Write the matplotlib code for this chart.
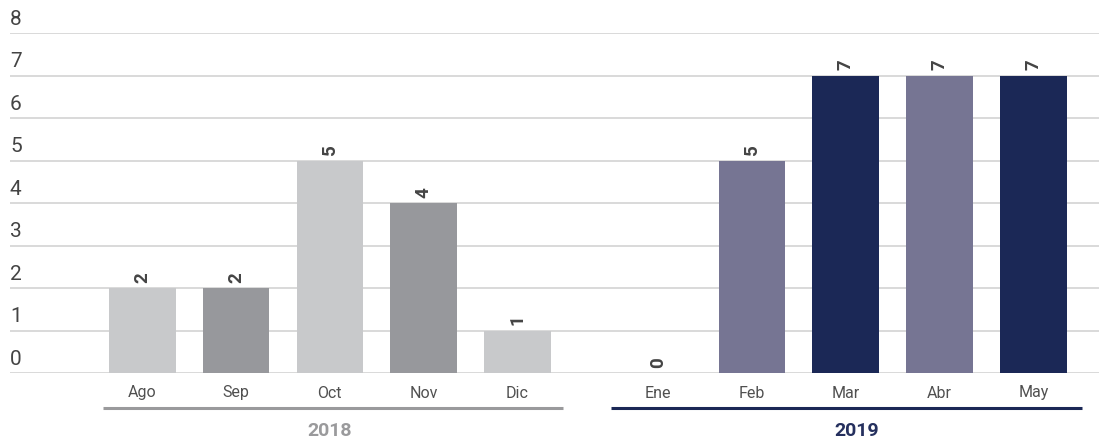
import matplotlib
matplotlib.use("Agg")
import matplotlib.pyplot as plt
import numpy as np

plt.rcParams['font.family'] = ['Roboto', 'DejaVu Sans']

# Casos por mes, agrupados por año
meses_2018 = ['Ago', 'Sep', 'Oct', 'Nov', 'Dic']
valores_2018 = [2, 2, 5, 4, 1]
meses_2019 = ['Ene', 'Feb', 'Mar', 'Abr', 'May']
valores_2019 = [0, 5, 7, 7, 7]
anios = ['2018', '2019']

colores_2018 = ['#c8c9cb', '#97989c', '#c8c9cb', '#97989c', '#c8c9cb']
colores_2019 = ['#1b2856', '#767593', '#1b2856', '#767593', '#1b2856']
color_anio = ['#9a9a9c', '#25305e']
linea_anio = ['#9a9a9c', '#1b2856']

# posiciones: hueco de media barra entre años
x18 = np.arange(len(meses_2018))
x19 = np.arange(len(meses_2019)) + len(meses_2018) + 0.5

fig = plt.figure(figsize=(10.99, 4.46), dpi=100)
ax = fig.add_axes([10 / 1099, 1 - 373 / 446, 1 - 10 / 1099, (373 - 33) / 446])

ax.set_xlim(-1.41, 10.2)
ax.set_ylim(0, 8)

# rejilla horizontal con la etiqueta encima de cada línea
for v in range(0, 9):
    ax.axhline(v, color='#d9d9d9', lw=1.4, zorder=0)
    ax.text(0.0, v + 0.1, str(v), transform=ax.get_yaxis_transform(),
            ha='left', va='bottom', fontsize=15, color='#444444')

ancho = 0.71
for xs, vals, cols in [(x18, valores_2018, colores_2018),
                       (x19, valores_2019, colores_2019)]:
    barras = ax.bar(xs, vals, width=ancho, color=cols, zorder=2)
    for b, v in zip(barras, vals):
        ax.text(b.get_x() + b.get_width() / 2, v + 0.12, f'{v}',
                ha='center', va='bottom', rotation=90, fontsize=13.5,
                fontweight='bold', color='#444444', zorder=3)

for spine in ax.spines.values():
    spine.set_visible(False)
ax.set_yticks([])
ax.set_xticks(np.concatenate([x18, x19]))
ax.set_xticklabels(meses_2018 + meses_2019, fontsize=11.5, color='#505050')
ax.tick_params(axis='x', length=0, pad=9)

# líneas y etiquetas de año bajo los meses
trans = ax.get_xaxis_transform()
for i, xs in enumerate([x18, x19]):
    if i == 0:
        x0, x1 = xs[0] - 0.42, xs[-1] + 0.49
        xc = (xs[0] + xs[-1]) / 2
    else:
        x0, x1 = xs[0] - 0.5, xs[-1] + 0.52
        xc = (xs[0] + xs[-1]) / 2 + 0.12
    ax.plot([x0, x1], [-0.103, -0.103], transform=trans, color=linea_anio[i],
            lw=2.2, clip_on=False, solid_capstyle='butt')
    ax.text(xc, -0.17, anios[i], transform=trans, ha='center', va='center',
            fontsize=14, fontweight='bold', color=color_anio[i])

fig.savefig('out.png', dpi=100)
